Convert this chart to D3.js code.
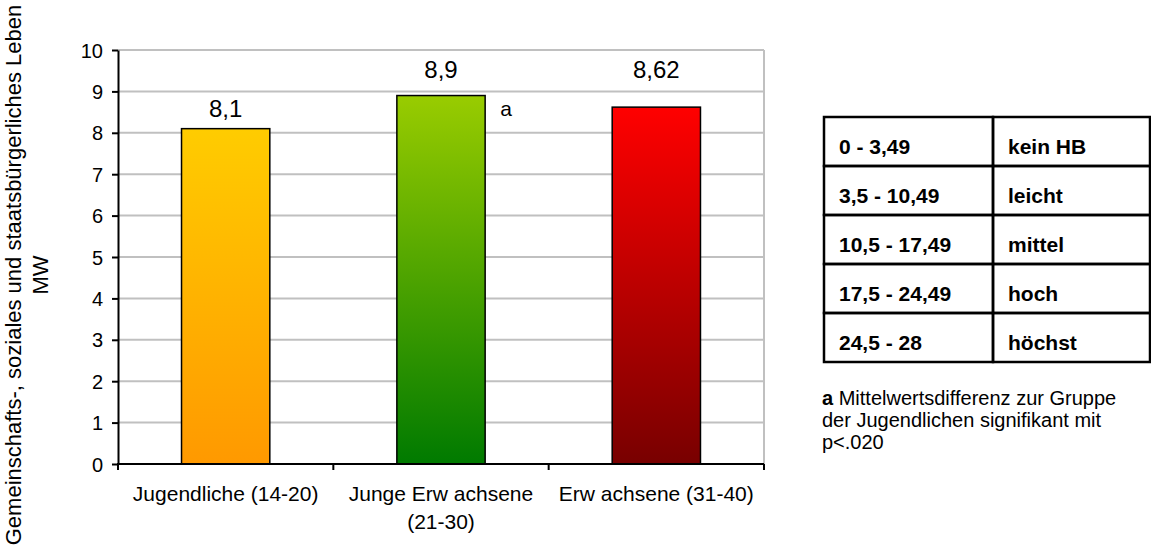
<!DOCTYPE html>
<html>
<head>
  <meta charset="utf-8">
  <style>
    body { margin: 0; background: #fff; }
    svg { display: block; font-family: "Liberation Sans", Arial, sans-serif; }
    .grid line { stroke: #c0c0c0; stroke-width: 2px; }
    .bar { stroke: #000; stroke-width: 1.5px; }
    .axis path, .axis line { stroke: #000; stroke-width: 2px; }
    .axis text { font-size: 20px; fill: #000; }
    .cat { font-size: 21px; fill: #000; }
    .val { font-size: 24px; fill: #000; }
    .cell { fill: none; stroke: #000; stroke-width: 2.5px; }
    .tbl { font-size: 21px; font-weight: bold; fill: #000; }
    .note { font-size: 20px; fill: #000; }
  </style>
</head>
<body>
  <svg width="1151" height="550"></svg>
  <script src="https://d3js.org/d3.v7.min.js"></script>
  <script>
    const categories = ["Jugendliche (14-20)", "Junge Erw achsene (21-30)", "Erw achsene (31-40)"];
    const values = [8.1, 8.9, 8.62];
    const marks = ["", "a", ""];
    const yTicks = [0, 1, 2, 3, 4, 5, 6, 7, 8, 9, 10];
    const topColors = ["#ffcc00", "#99cc00", "#ff0000"];
    const bottomColors = ["#ff9900", "#007a00", "#780000"];

    const ranges = ["0 - 3,49", "3,5 - 10,49", "10,5 - 17,49", "17,5 - 24,49", "24,5 - 28"];
    const levels = ["kein HB", "leicht", "mittel", "hoch", "höchst"];

    const titleLines = ["Gemeinschafts-, soziales und staatsbürgerliches Leben", "MW"];
    const noteLines = [["a", " Mittelwertsdifferenz zur Gruppe"], ["", "der Jugendlichen signifikant mit"], ["", "p<.020"]];

    // label lift above each bar top (px), as placed in the original
    const labelLift = [12, 18, 29];

    const svg = d3.select("svg");
    const plotL = 118, plotR = 764, plotT = 50, plotB = 464;

    const x = d3.scaleBand()
      .domain(categories)
      .range([plotL, plotR])
      .paddingInner(0.59)
      .paddingOuter(0.295);

    const y = d3.scaleLinear().domain([0, 10]).range([plotB, plotT]);

    const fmt = d3.formatLocale({decimal: ",", thousands: ".", grouping: [3], currency: ["", "€"]}).format("~g");

    // gradients
    const defs = svg.append("defs");
    categories.forEach((c, i) => {
      const g = defs.append("linearGradient")
        .attr("id", "grad" + i)
        .attr("x1", 0).attr("y1", 0).attr("x2", 0).attr("y2", 1);
      g.append("stop").attr("offset", "0%").attr("stop-color", topColors[i]);
      g.append("stop").attr("offset", "100%").attr("stop-color", bottomColors[i]);
    });

    // gridlines
    svg.append("g")
      .attr("class", "grid")
      .selectAll("line")
      .data(yTicks.slice(1))
      .join("line")
      .attr("x1", plotL).attr("x2", plotR)
      .attr("y1", d => y(d)).attr("y2", d => y(d));

    svg.append("line")
      .attr("x1", plotR).attr("x2", plotR)
      .attr("y1", y(10)).attr("y2", y(0))
      .attr("stroke", "#c0c0c0").attr("stroke-width", 2);

    // bars
    svg.append("g")
      .selectAll("rect")
      .data(values)
      .join("rect")
      .attr("class", "bar")
      .attr("x", (d, i) => x(categories[i]))
      .attr("width", x.bandwidth())
      .attr("y", d => y(d))
      .attr("height", d => y(0) - y(d))
      .attr("fill", (d, i) => `url(#grad${i})`);

    // value labels
    svg.append("g")
      .selectAll("text")
      .data(values)
      .join("text")
      .attr("class", "val")
      .attr("text-anchor", "middle")
      .attr("x", (d, i) => x(categories[i]) + x.bandwidth() / 2)
      .attr("y", (d, i) => y(d) - labelLift[i])
      .text(d => fmt(d));

    // significance marks
    svg.append("g")
      .selectAll("text")
      .data(values)
      .join("text")
      .attr("class", "cat")
      .attr("x", (d, i) => x(categories[i]) + x.bandwidth() + 15)
      .attr("y", d => y(d) + 20)
      .text((d, i) => marks[i]);

    // y axis
    const yAxis = svg.append("g")
      .attr("class", "axis")
      .attr("transform", `translate(${plotL},0)`)
      .call(d3.axisLeft(y).tickValues(yTicks).tickSize(6).tickSizeOuter(0).tickPadding(9).tickFormat(d3.format("d")));
    yAxis.selectAll("text").attr("dy", "0.35em");

    // x axis line and boundary ticks
    const xAxis = svg.append("g").attr("class", "axis");
    xAxis.append("line")
      .attr("x1", plotL - 1).attr("x2", plotR)
      .attr("y1", plotB).attr("y2", plotB);
    xAxis.selectAll(".bt")
      .data(d3.range(categories.length + 1))
      .join("line")
      .attr("x1", i => plotL + i * x.step()).attr("x2", i => plotL + i * x.step())
      .attr("y1", plotB).attr("y2", plotB + 6);

    // category labels, wrapped to the category width
    const measure = svg.append("text").attr("class", "cat").attr("visibility", "hidden");
    function wrap(str, maxW) {
      const words = str.split(" ");
      const lines = [];
      let line = [];
      words.forEach(w => {
        const test = line.concat(w).join(" ");
        measure.text(test);
        if (measure.node().getComputedTextLength() > maxW && line.length) {
          lines.push(line.join(" "));
          line = [w];
        } else {
          line.push(w);
        }
      });
      lines.push(line.join(" "));
      return lines;
    }

    const catText = svg.append("g")
      .selectAll("text")
      .data(categories)
      .join("text")
      .attr("class", "cat")
      .attr("text-anchor", "middle")
      .attr("x", d => x(d) + x.bandwidth() / 2)
      .attr("y", 501);
    catText.each(function(d) {
      const lines = wrap(d, x.step() - 12);
      d3.select(this).selectAll("tspan")
        .data(lines)
        .join("tspan")
        .attr("x", x(d) + x.bandwidth() / 2)
        .attr("dy", (l, j) => j ? 28 : 0)
        .text(l => l);
    });
    measure.remove();

    // y axis title
    svg.append("text")
      .attr("transform", "translate(21,275) rotate(-90)")
      .attr("text-anchor", "middle")
      .style("font-size", "22px")
      .selectAll("tspan")
      .data(titleLines)
      .join("tspan")
      .attr("x", 0)
      .attr("y", (d, i) => i * 27)
      .text(d => d);

    // legend table
    const tLeft = 824, tMid = 993, tRight = 1150;
    const rowY = d3.scaleBand().domain(d3.range(ranges.length)).range([117, 362]);
    const rows = svg.append("g")
      .selectAll("g")
      .data(ranges)
      .join("g")
      .attr("transform", (d, i) => `translate(0,${rowY(i)})`);
    rows.append("rect").attr("class", "cell")
      .attr("x", tLeft).attr("width", tMid - tLeft).attr("height", rowY.bandwidth());
    rows.append("rect").attr("class", "cell")
      .attr("x", tMid).attr("width", tRight - tMid).attr("height", rowY.bandwidth());
    rows.append("text").attr("class", "tbl")
      .attr("x", tLeft + 15).attr("y", rowY.bandwidth() / 2 + 12)
      .text(d => d);
    rows.append("text").attr("class", "tbl")
      .attr("x", tMid + 15).attr("y", rowY.bandwidth() / 2 + 12)
      .text((d, i) => levels[i]);

    // footnote
    const note = svg.append("g")
      .selectAll("text")
      .data(noteLines)
      .join("text")
      .attr("class", "note")
      .attr("x", 822)
      .attr("y", (d, i) => 405 + i * 22);
    note.append("tspan").style("font-weight", "bold").text(d => d[0]);
    note.append("tspan").text(d => d[1]);
  </script>
</body>
</html>
